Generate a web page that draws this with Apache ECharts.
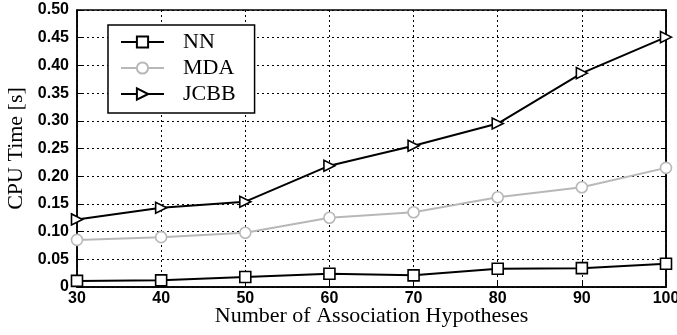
<!DOCTYPE html>
<html>
<head>
<meta charset="utf-8">
<script src="https://cdn.jsdelivr.net/npm/echarts@6/dist/echarts.min.js"></script>
<style>
  html, body { margin: 0; padding: 0; background: #fff; }
  #chart { width: 677px; height: 335px; }
</style>
</head>
<body>
<div id="chart"></div>
<script>
// Number of association hypotheses (x values)
const hypotheses = [30, 40, 50, 60, 70, 80, 90, 100];
// CPU time per method, seconds
const nnTime   = [0.011, 0.012, 0.018, 0.024, 0.021, 0.033, 0.034, 0.042];
const mdaTime  = [0.085, 0.090, 0.098, 0.125, 0.135, 0.162, 0.180, 0.215];
const jcbbTime = [0.122, 0.143, 0.154, 0.219, 0.255, 0.295, 0.386, 0.451];
const yTickLabels = ['0', '0.05', '0.10', '0.15', '0.20', '0.25', '0.30', '0.35', '0.40', '0.45', '0.50'];

const pairs = vals => hypotheses.map((x, i) => [x, vals[i]]);

const chart = echarts.init(document.getElementById('chart'), null, { renderer: 'canvas' });

const tickFont = { fontFamily: 'Liberation Sans, Arial, sans-serif', fontWeight: 'bold', fontSize: 16, color: '#000' };
const nameFont = { fontFamily: 'Liberation Serif, Times New Roman, serif', fontSize: 22, color: '#000' };

function lineSeries(name, vals, color, symbol, rotate) {
  return {
    name: name,
    type: 'line',
    data: pairs(vals),
    symbol: symbol,
    symbolSize: 11,
    symbolRotate: rotate || 0,
    lineStyle: { color: color, width: 2 },
    itemStyle: { color: '#fff', borderColor: color, borderWidth: 1.6 },
    emphasis: { disabled: true },
    animation: false,
    z: 3
  };
}

chart.setOption({
  backgroundColor: '#fff',
  animation: false,
  grid: {
    left: 77, right: 11, top: 10, bottom: 48,
    containLabel: false,
    outerBoundsMode: 'none',
    show: true, borderColor: '#000', borderWidth: 1.5, backgroundColor: 'transparent'
  },
  legend: {
    left: 108, top: 25,
    orient: 'vertical',
    padding: [6, 19, 8, 12],
    itemGap: 4,
    itemWidth: 43,
    itemHeight: 14,
    borderColor: '#000',
    borderWidth: 1.5,
    backgroundColor: '#fff',
    textStyle: { fontFamily: 'Liberation Serif, Times New Roman, serif', fontSize: 22, color: '#000', padding: [0, 0, 0, 14] },
    data: [
      { name: 'NN' },
      { name: 'MDA' },
      { name: 'JCBB' }
    ]
  },
  xAxis: {
    type: 'value',
    min: 30, max: 100, interval: 10,
    name: 'Number of Association Hypotheses',
    nameLocation: 'middle',
    nameGap: 18,
    nameMoveOverlap: false,
    nameTextStyle: nameFont,
    axisLine: { show: true, lineStyle: { color: '#000', width: 1.5 } },
    axisTick: { show: true, inside: true, length: 5, lineStyle: { color: '#000' } },
    axisLabel: Object.assign({ margin: 4 }, tickFont),
    splitLine: { show: true, lineStyle: { color: '#000', type: [2, 3], width: 1 } }
  },
  yAxis: [{
    type: 'value',
    min: 0, max: 0.5, interval: 0.05,
    name: 'CPU Time [s]',
    nameLocation: 'middle',
    nameGap: 50,
    nameTextStyle: nameFont,
    axisLine: { show: true, lineStyle: { color: '#000', width: 1.5 } },
    axisTick: { show: true, inside: true, length: 5, lineStyle: { color: '#000' } },
    axisLabel: Object.assign({
      margin: 8,
      formatter: (v) => yTickLabels[Math.round(v / 0.05)]
    }, tickFont),
    splitLine: { show: true, lineStyle: { color: '#000', type: [2, 3], width: 1 } }
  }, {
    type: 'value',
    position: 'right',
    min: 0, max: 0.5, interval: 0.05,
    axisLine: { show: true, lineStyle: { color: '#000', width: 1.5 } },
    axisTick: { show: true, inside: true, length: 5, lineStyle: { color: '#000' } },
    axisLabel: { show: false },
    splitLine: { show: false }
  }],
  series: [
    lineSeries('NN', nnTime, '#000', 'rect', 0),
    lineSeries('MDA', mdaTime, '#b8b8b8', 'circle', 0),
    lineSeries('JCBB', jcbbTime, '#000', 'triangle', -90)
  ]
});
</script>
</body>
</html>
